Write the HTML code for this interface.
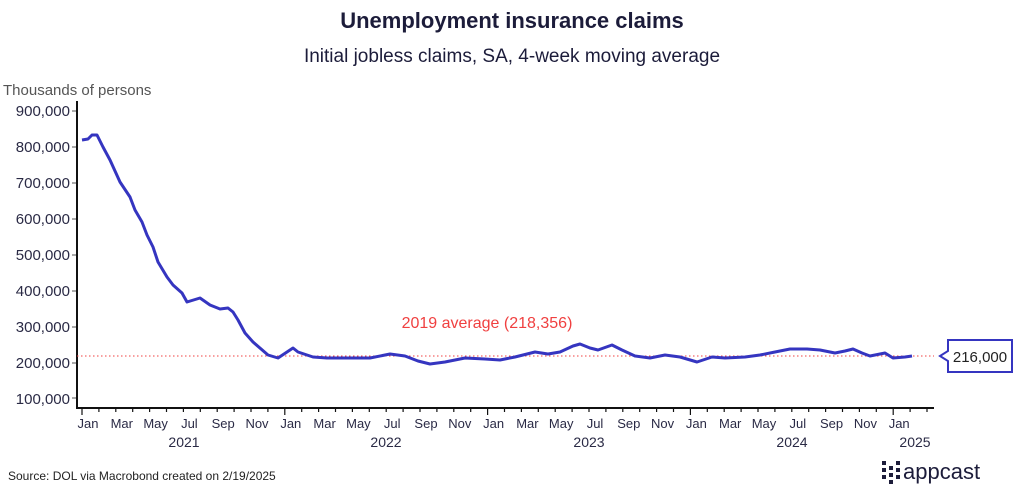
<!DOCTYPE html>
<html><head><meta charset="utf-8"><style>
body{margin:0;background:#fff;width:1024px;height:497px;overflow:hidden;font-family:"Liberation Sans",sans-serif}
</style></head><body>
<svg width="1024" height="497" xmlns="http://www.w3.org/2000/svg" font-family="Liberation Sans, sans-serif">
<text x="512" y="28" text-anchor="middle" font-size="22" font-weight="bold" fill="#1c1c3a">Unemployment insurance claims</text>
<text x="512" y="62" text-anchor="middle" font-size="19" fill="#1c1c3a">Initial jobless claims, SA, 4-week moving average</text>
<text x="3" y="95" font-size="15" fill="#555">Thousands of persons</text>
<g font-size="15" fill="#2a2a45" text-anchor="end">
<text x="70" y="116">900,000</text><text x="70" y="152">800,000</text><text x="70" y="188">700,000</text>
<text x="70" y="224">600,000</text><text x="70" y="260">500,000</text><text x="70" y="296">400,000</text>
<text x="70" y="332">300,000</text><text x="70" y="368">200,000</text><text x="70" y="404">100,000</text>
</g>
<g stroke="#555" stroke-width="1">
<line x1="72" y1="111" x2="76" y2="111"/><line x1="72" y1="147" x2="76" y2="147"/><line x1="72" y1="183" x2="76" y2="183"/><line x1="72" y1="219" x2="76" y2="219"/><line x1="72" y1="255" x2="76" y2="255"/><line x1="72" y1="291" x2="76" y2="291"/><line x1="72" y1="327" x2="76" y2="327"/><line x1="72" y1="363" x2="76" y2="363"/><line x1="72" y1="398" x2="76" y2="398"/>
</g>
<line x1="77" y1="101" x2="77" y2="408" stroke="#111" stroke-width="2"/>
<line x1="76" y1="408" x2="934" y2="408" stroke="#111" stroke-width="2"/>
<g stroke="#111" stroke-width="1.2" id="ticks"></g>
<line x1="77" y1="356" x2="934" y2="356" stroke="#f04040" stroke-width="1" stroke-dasharray="1.5,2.5"/>
<text x="487" y="328" text-anchor="middle" font-size="16" fill="#f04040">2019 average (218,356)</text>
<polyline fill="none" stroke="#3535c0" stroke-width="3" stroke-linejoin="round" points="82,140 88,139 92,135 97,135 103,147 110,160 120,182 130,197 135,210 142,222 147,235 153,247 158,262 167,277 173,285 182,293 187,302 200,298 210,305 220,309 228,308 233,312 238,320 245,333 253,342 268,355 278,358 293,348 298,352 313,357 327,358 350,358 370,358 390,354 405,356 418,361 430,364 445,362 465,358 485,359 500,360 515,357 535,352 548,354 560,352 573,346 580,344 590,348 598,350 612,345 622,350 635,356 650,358 665,355 680,357 697,362 712,357 725,358 745,357 760,355 775,352 790,349 807,349 820,350 835,353 845,351 853,349 862,353 870,356 885,353 893,358 905,357 912,356"/>
<path d="M948,340 H1012 V372 H948 V361 L940,356 L948,351 Z" fill="#fff" stroke="#3535c0" stroke-width="2"/>
<text x="980" y="362" text-anchor="middle" font-size="15" fill="#222">216,000</text>
<g font-size="13" fill="#2a2a45" text-anchor="middle" id="mlab"></g>
<g font-size="14" fill="#2a2a45" text-anchor="middle">
<text x="184" y="447">2021</text><text x="386" y="447">2022</text><text x="589" y="447">2023</text><text x="792" y="447">2024</text><text x="915" y="447">2025</text>
</g>
<text x="8" y="480" font-size="12" fill="#222">Source: DOL via Macrobond created on 2/19/2025</text>
<g fill="#1c1c3a">
<rect x="882" y="461" width="4" height="4"/><rect x="882" y="468" width="4" height="4"/><rect x="882" y="475" width="4" height="4"/>
<rect x="889" y="466" width="4" height="4"/><rect x="889" y="473" width="4" height="4"/><rect x="889" y="480" width="4" height="4"/>
<rect x="896" y="461" width="4" height="4"/><rect x="896" y="468" width="4" height="4"/><rect x="896" y="475" width="4" height="4"/>
</g>
<text x="903" y="479" font-size="22" fill="#1c1c3a">appcast</text>
<script>
var t=document.getElementById('ticks'),m=document.getElementById('mlab'),n=['Jan','Mar','May','Jul','Sep','Nov'],ns='http://www.w3.org/2000/svg';
for(var i=0;i<=50;i++){var x=82+i*16.9;var l=document.createElementNS(ns,'line');l.setAttribute('x1',x);l.setAttribute('x2',x);l.setAttribute('y1',408);l.setAttribute('y2',i%12==0?415:412);t.appendChild(l);
if(i%2==0&&i<=48){var tx=document.createElementNS(ns,'text');tx.setAttribute('x',x+6);tx.setAttribute('y',428);tx.textContent=n[(i/2)%6];m.appendChild(tx);}}
</script>
</svg>
</body></html>
